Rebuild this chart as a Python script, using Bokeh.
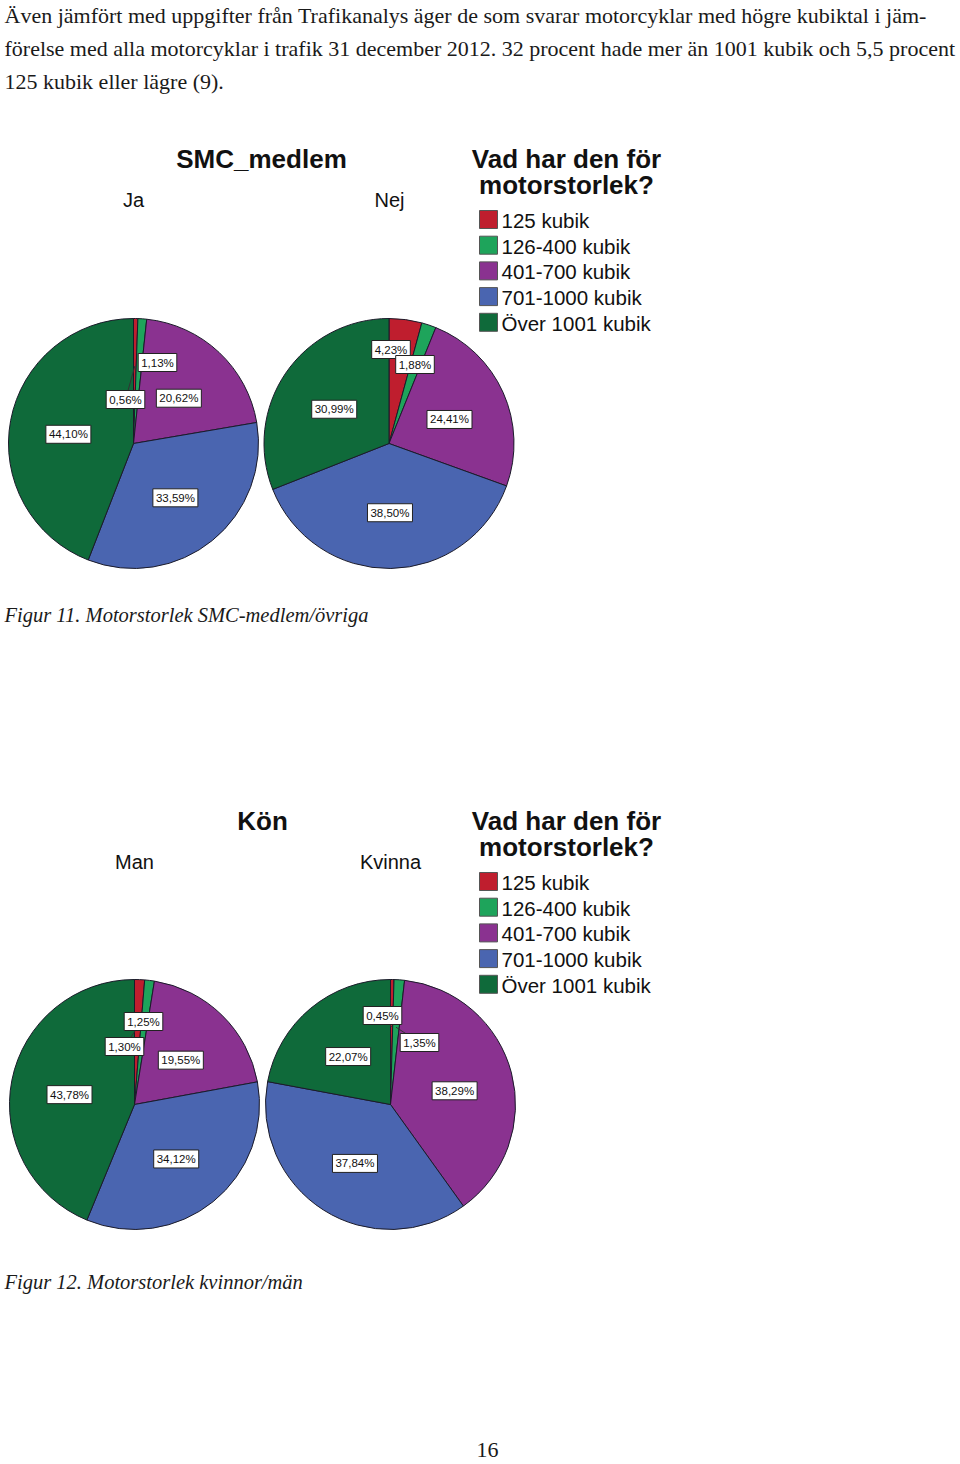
import math
from bokeh.plotting import figure
from bokeh.models import Range1d, ColumnDataSource
from bokeh.core.properties import value
from bokeh.embed import file_html
from bokeh.resources import INLINE

# ---------------- data ----------------
categories = ["125 kubik", "126-400 kubik", "401-700 kubik", "701-1000 kubik", "Över 1001 kubik"]
ja = [0.56, 1.13, 20.62, 33.59, 44.10]
nej = [4.23, 1.88, 24.41, 38.50, 30.99]
man = [1.30, 1.25, 19.55, 34.12, 43.78]
kvinna = [0.45, 1.35, 38.29, 37.84, 22.07]

colors = ["#BF1E2E", "#1EA45B", "#8A3290", "#4A65B0", "#0F6A3A"]

body_lines = [
    "Även jämfört med uppgifter från Trafikanalys äger de som svarar motorcyklar med högre kubiktal i jäm-",
    "förelse med alla motorcyklar i trafik 31 december 2012. 32 procent hade mer än 1001 kubik och 5,5 procent",
    "125 kubik eller lägre (9).",
]
caption1 = "Figur 11. Motorstorlek SMC-medlem/övriga"
caption2 = "Figur 12. Motorstorlek kvinnor/män"
legend_title = ["Vad har den för", "motorstorlek?"]
page_no = "16"

W, H = 960, 1464


def Y(y):
    return H - y


p = figure(width=W, height=H, x_range=Range1d(0, W), y_range=Range1d(0, H),
           output_backend="svg", toolbar_location=None, min_border=0)
p.axis.visible = False
p.grid.visible = False
p.outline_line_color = None
p.background_fill_color = "white"
p.border_fill_color = "white"

SANS = value("Liberation Sans")
SERIF = value("Liberation Serif")


def fmt(v):
    return ("%.2f" % v).replace(".", ",") + "%"


R = 125
# pie layout: (values, center x, center y, small-label offsets for slices index->(dx,dy))
pies = [
    (ja, 133, 443, {0: (-8, -44), 1: (24, -81)}),
    (nej, 388.5, 443, {0: (2, -94), 1: (26, -79)}),
    (man, 134, 1104, {0: (-10, -58), 1: (9, -83)}),
    (kvinna, 390, 1104, {0: (-8, -89), 1: (29, -62)}),
]

for vals, cx, cy, small in pies:
    total = sum(vals)
    cum = 0.0
    starts, ends, lx, ly, lt = [], [], [], [], []
    lines_x, lines_y = [], []
    for i, v in enumerate(vals):
        c0 = cum / total
        c1 = (cum + v) / total
        cum += v
        starts.append(math.pi / 2 - 2 * math.pi * c1)
        ends.append(math.pi / 2 - 2 * math.pi * c0)
        mid = 2 * math.pi * (c0 + c1) / 2
        if i in small:
            dx, dy = small[i]
            x, y = cx + dx, cy + dy
            px = cx + 0.62 * R * math.sin(mid)
            py = cy - 0.62 * R * math.cos(mid)
            lines_x.append([x, px])
            lines_y.append([Y(y), Y(py)])
        else:
            d = 0.53 * R
            x = cx + d * math.sin(mid)
            y = cy - d * math.cos(mid) + 3
        lx.append(x)
        ly.append(Y(y))
        lt.append(fmt(v))
    src = ColumnDataSource(dict(start=starts, end=ends, color=colors))
    p.wedge(x=cx, y=Y(cy), radius=R, start_angle="start", end_angle="end",
            fill_color="color", line_color="#1b1b2a", line_width=1, source=src)
    if lines_x:
        p.multi_line(xs=lines_x, ys=lines_y, line_color="#333333", line_width=1)
    p.text(x=lx, y=ly, text=lt, text_font=SANS, text_font_size="11.5px",
           text_align="center", text_baseline="middle", text_color="#111111",
           background_fill_color="white", border_line_color="#222222",
           border_line_width=1, padding=3)

# ---------------- titles ----------------
p.text(x=[261], y=[Y(158)], text=["SMC_medlem"], text_font=SANS, text_font_style="bold",
       text_font_size="26px", text_align="center", text_baseline="middle", text_color="#111111")
p.text(x=[133, 389], y=[Y(199), Y(199)], text=["Ja", "Nej"], text_font=SANS,
       text_font_size="20px", text_align="center", text_baseline="middle", text_color="#111111")
p.text(x=[262], y=[Y(820)], text=["Kön"], text_font=SANS, text_font_style="bold",
       text_font_size="26px", text_align="center", text_baseline="middle", text_color="#111111")
p.text(x=[134, 390], y=[Y(861), Y(861)], text=["Man", "Kvinna"], text_font=SANS,
       text_font_size="20px", text_align="center", text_baseline="middle", text_color="#111111")

# ---------------- legends ----------------
for top in (158, 820):
    p.text(x=[566, 566], y=[Y(top), Y(top + 26)], text=legend_title, text_font=SANS,
           text_font_style="bold", text_font_size="26px", text_align="center",
           text_baseline="middle", text_color="#111111")
    rows = [top + 61 + 25.7 * k for k in range(len(categories))]
    p.rect(x=[488] * len(categories), y=[Y(r) for r in rows], width=18, height=18,
           fill_color=colors, line_color="#555555", line_width=1)
    p.text(x=[501] * len(categories), y=[Y(r + 1) for r in rows], text=categories,
           text_font=SANS, text_font_size="20.5px", text_align="left",
           text_baseline="middle", text_color="#111111")

# ---------------- page text ----------------
p.text(x=[4] * 3, y=[Y(15), Y(48), Y(81)], text=body_lines, text_font=SERIF,
       text_font_size="22px", text_align="left", text_baseline="middle", text_color="#1a1a1a")
p.text(x=[4], y=[Y(614)], text=[caption1], text_font=SERIF, text_font_style="italic",
       text_font_size="20.5px", text_align="left", text_baseline="middle", text_color="#1a1a1a")
p.text(x=[4], y=[Y(1281)], text=[caption2], text_font=SERIF, text_font_style="italic",
       text_font_size="20.5px", text_align="left", text_baseline="middle", text_color="#1a1a1a")
p.text(x=[487], y=[Y(1449)], text=[page_no], text_font=SERIF,
       text_font_size="22px", text_align="center", text_baseline="middle", text_color="#1a1a1a")

open("out.html", "w").write(file_html(p, INLINE))
